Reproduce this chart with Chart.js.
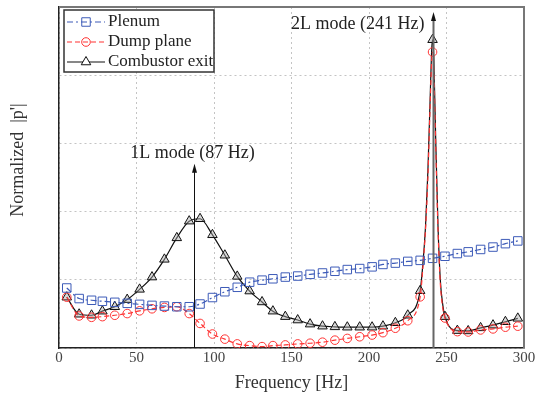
<!DOCTYPE html>
<html>
<head>
<meta charset="UTF-8">
<title>Normalized |p'| vs frequency</title>
<script src="https://cdn.jsdelivr.net/npm/chart.js"></script>
<style>
    body { margin: 0; background: #fff; }
    .wrap { position: relative; width: 542px; height: 396px; }
</style>
</head>
<body>
<div class="wrap"><canvas id="chart"></canvas></div>
<script>
// marker frequencies (Hz)
const freqs = [5, 13, 21, 28, 36, 44, 52, 60, 68, 76, 84, 91, 99, 107, 115, 123, 131, 138, 146,
    154, 162, 170, 178, 186, 194, 202, 209, 217, 225, 233, 241, 249, 257, 264, 272, 280, 288, 296];

const plenum = [0.176, 0.145, 0.140, 0.137, 0.134, 0.131, 0.128, 0.125, 0.123, 0.121, 0.121, 0.129, 0.148,
    0.165, 0.178, 0.193, 0.199, 0.203, 0.208, 0.211, 0.216, 0.220, 0.225, 0.230, 0.233, 0.238, 0.245,
    0.249, 0.254, 0.257, 0.263, 0.269, 0.277, 0.282, 0.289, 0.296, 0.306, 0.314];

const dumpPlane = [0.149, 0.094, 0.090, 0.092, 0.096, 0.101, 0.109, 0.115, 0.119, 0.121, 0.101, 0.072, 0.041,
    0.026, 0.012, 0.007, 0.004, 0.007, 0.009, 0.012, 0.014, 0.017, 0.023, 0.028, 0.033, 0.038, 0.045,
    0.058, 0.080, 0.150, 0.868, 0.088, 0.048, 0.047, 0.053, 0.056, 0.061, 0.064];

const combustorExit = [0.149, 0.099, 0.096, 0.108, 0.121, 0.142, 0.172, 0.208, 0.260, 0.323, 0.372, 0.379, 0.332,
    0.272, 0.210, 0.167, 0.135, 0.108, 0.092, 0.082, 0.070, 0.064, 0.062, 0.061, 0.061, 0.061, 0.064,
    0.074, 0.096, 0.168, 0.904, 0.092, 0.051, 0.050, 0.059, 0.067, 0.077, 0.087];

// extra line points around the 2L resonance (no markers)
const peakFreqs = [235, 236.5, 238, 239.5, 240.5, 241.8, 243, 244.5, 246, 247.5];
const peakDump = [0.25, 0.35, 0.50, 0.72, 0.85, 0.82, 0.60, 0.35, 0.19, 0.12];
const peakExit = [0.26, 0.36, 0.52, 0.74, 0.88, 0.85, 0.62, 0.36, 0.20, 0.13];

const modes = [
    { f: 87, top: 0.54, label: '1L mode (87 Hz)' },
    { f: 241, top: 0.985, label: '2L mode (241 Hz)' }
];

function buildPoints(vals, extraF, extraV) {
    const pts = freqs.map((f, i) => ({ x: f, y: vals[i], m: true }));
    if (extraF) extraF.forEach((f, i) => pts.push({ x: f, y: extraV[i], m: false }));
    return pts.sort((a, b) => a.x - b.x);
}

const SERIF = "'Liberation Serif', 'DejaVu Serif', serif";

const series = [
    { label: 'Plenum', data: buildPoints(plenum), color: '#3d5bb8', dash: [6, 3, 2, 3], style: 'rect', r: 6, fill: 'rgba(0,0,0,0)' },
    { label: 'Dump plane', data: buildPoints(dumpPlane, peakFreqs, peakDump), color: '#ff3333', dash: [5, 3], style: 'circle', r: 4.3, fill: 'rgba(0,0,0,0)' },
    { label: 'Combustor exit', data: buildPoints(combustorExit, peakFreqs, peakExit), color: '#111', dash: [], style: 'triangle', r: 5.5, fill: 'rgba(170,170,170,0.45)' }
];

// legend, mode arrows, frame
const extras = {
    id: 'extras',
    afterDatasetsDraw(chart) {
        const ctx = chart.ctx, a = chart.chartArea;
        const xs = chart.scales.x, ys = chart.scales.y;
        ctx.save();

        // top / right frame
        ctx.strokeStyle = '#777';
        ctx.lineWidth = 2;
        ctx.beginPath();
        ctx.moveTo(a.left, a.top);
        ctx.lineTo(a.right, a.top);
        ctx.lineTo(a.right, a.bottom);
        ctx.stroke();

        // mode arrows
        modes.forEach((m, i) => {
            const px = Math.round(xs.getPixelForValue(m.f)) + 0.5;
            const tip = ys.getPixelForValue(m.top);
            ctx.strokeStyle = i === 0 ? '#111' : '#666';
            ctx.lineWidth = i === 0 ? 1 : 2;
            ctx.beginPath();
            ctx.moveTo(px, a.bottom);
            ctx.lineTo(px, tip + 6);
            ctx.stroke();
            ctx.fillStyle = '#111';
            ctx.beginPath();
            ctx.moveTo(px, tip);
            ctx.lineTo(px - 2.5, tip + 9);
            ctx.lineTo(px + 2.5, tip + 9);
            ctx.closePath();
            ctx.fill();
            ctx.font = '18px ' + SERIF;
            ctx.fillStyle = '#222';
            ctx.textBaseline = 'middle';
            if (i === 0) {
                ctx.textAlign = 'center';
                ctx.fillText(m.label, px - 2, tip - 11);
            } else {
                ctx.textAlign = 'right';
                ctx.fillText(m.label, px - 9, tip + 12);
            }
        });

        // legend
        const lx = 64, ly = 10, lw = 150, lh = 62;
        ctx.fillStyle = '#fff';
        ctx.fillRect(lx, ly, lw, lh);
        ctx.strokeStyle = '#333';
        ctx.lineWidth = 1.5;
        ctx.strokeRect(lx, ly, lw, lh);
        series.forEach((s, i) => {
            const y = ly + 12 + i * 20;
            ctx.strokeStyle = s.color;
            ctx.lineWidth = 1.2;
            ctx.setLineDash(s.dash);
            ctx.beginPath();
            ctx.moveTo(lx + 3, y);
            ctx.lineTo(lx + 41, y);
            ctx.stroke();
            ctx.setLineDash([]);
            ctx.lineWidth = 1;
            ctx.strokeStyle = s.color;
            ctx.fillStyle = s.style === 'triangle' ? '#fff' : s.fill;
            Chart.helpers.drawPoint(ctx, {
                pointStyle: s.style, radius: s.r, borderWidth: 1
            }, lx + 22, y);
            ctx.fillStyle = '#222';
            ctx.font = '17px ' + SERIF;
            ctx.textAlign = 'left';
            ctx.textBaseline = 'middle';
            ctx.fillText(s.label, lx + 44, y);
        });

        // y title
        ctx.translate(18, 160);
        ctx.rotate(-Math.PI / 2);
        ctx.font = '18px ' + SERIF;
        ctx.fillStyle = '#333';
        ctx.textAlign = 'center';
        ctx.textBaseline = 'middle';
        ctx.fillText("Normalized  |p'|", 0, 0);
        ctx.restore();
    }
};

new Chart(document.getElementById('chart'), {
    type: 'line',
    data: {
        datasets: series.map(s => ({
            label: s.label,
            data: s.data,
            borderColor: s.color,
            borderWidth: 1.2,
            borderDash: s.dash,
            pointStyle: s.style,
            pointRadius: ctx => (ctx.raw && ctx.raw.m ? s.r : 0),
            pointBorderColor: s.color,
            pointBackgroundColor: s.fill,
            pointBorderWidth: 1,
            cubicInterpolationMode: 'monotone',
            fill: false
        }))
    },
    options: {
        responsive: true,
        maintainAspectRatio: false,
        animation: false,
        layout: { padding: { top: 6, right: 18, left: 0, bottom: 0 } },
        plugins: { legend: { display: false }, tooltip: { enabled: false } },
        scales: {
            x: {
                type: 'linear',
                min: 0, max: 300,
                ticks: { stepSize: 50, padding: 1, color: '#444', font: { family: SERIF, size: 15 } },
                grid: { color: '#c4c4c4', drawTicks: false },
                border: { color: '#222', width: 1.5, dash: [2, 3] },
                title: { display: true, text: 'Frequency [Hz]', color: '#333', font: { family: SERIF, size: 18 }, padding: { top: 4, bottom: 2 } },
                afterFit: sc => { sc.height = 48; }
            },
            y: {
                min: 0, max: 1,
                ticks: { stepSize: 0.2, display: false },
                grid: { color: '#c4c4c4', drawTicks: false },
                border: { color: '#222', width: 1.5, dash: [2, 3] },
                afterFit: sc => { sc.width = 59; }
            }
        }
    },
    plugins: [extras]
});
</script>
</body>
</html>
